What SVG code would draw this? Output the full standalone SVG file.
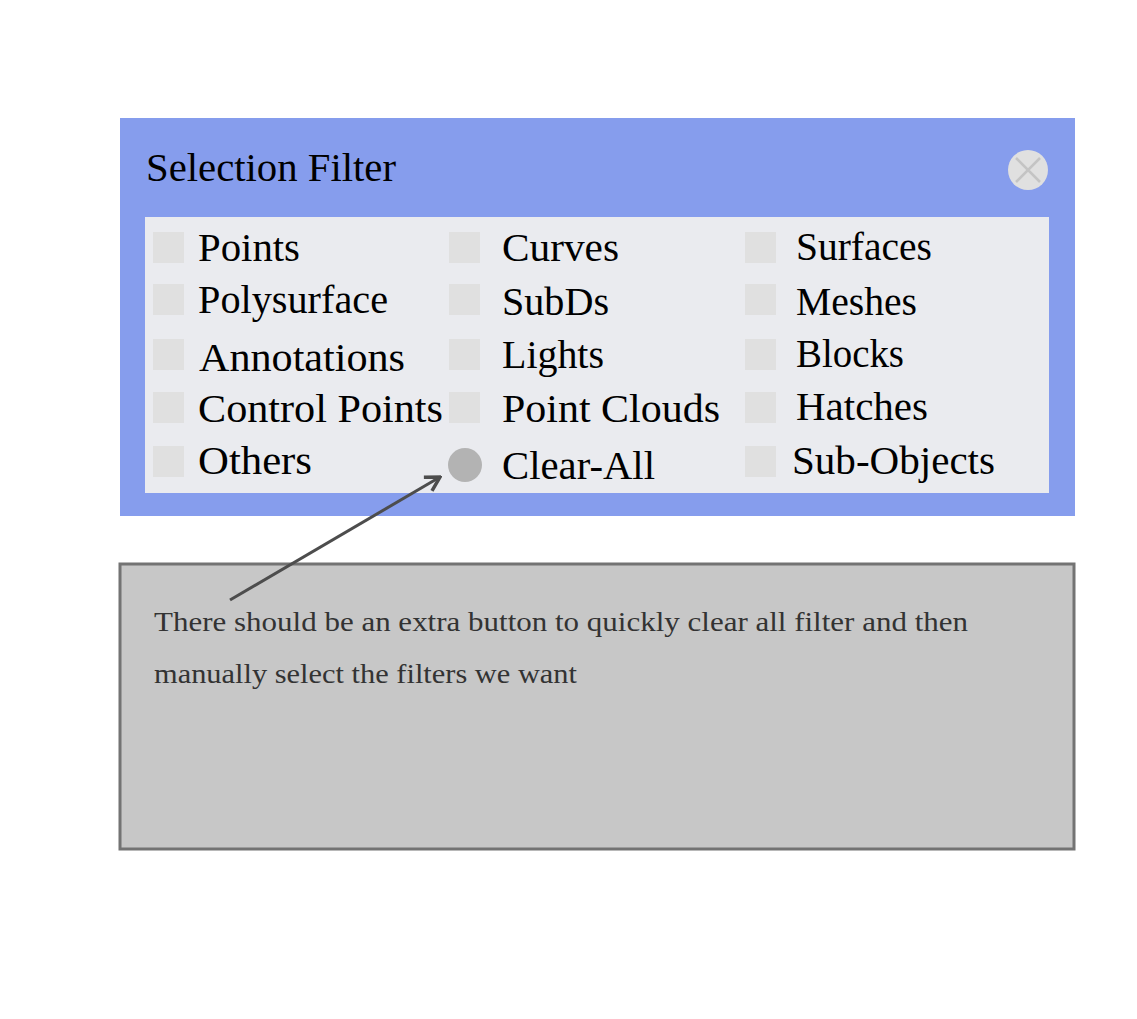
<svg xmlns="http://www.w3.org/2000/svg" width="1137" height="1019" viewBox="0 0 1137 1019">
<style>
.lbl{font-family:"Liberation Serif","Times New Roman",serif;font-size:40px;fill:#000}
.note{font-family:"Liberation Serif","Times New Roman",serif;font-size:28px;fill:#333}
.cb{fill:#e0e0e0}
</style>
<defs>
<marker id="arr" viewBox="0 0 20 20" refX="18" refY="10" markerWidth="20" markerHeight="20" markerUnits="userSpaceOnUse" orient="auto">
<path d="M4,2 L18,10 L4,18" fill="none" stroke="#4d4d4d" stroke-width="3.5" stroke-linejoin="miter"/>
</marker>
</defs>
<rect width="1137" height="1019" fill="#fff"/>
<g id="panel">
<rect x="120" y="118" width="955" height="398" fill="#869ded"/>
<text class="lbl" x="146" y="181" textLength="250" lengthAdjust="spacingAndGlyphs">Selection Filter</text>
<g id="close">
<circle cx="1028" cy="170" r="20" fill="#e0e0e0"/>
<path d="M1016,158 L1040,182 M1040,158 L1016,182" stroke="#c4c4c4" stroke-width="2.5"/>
</g>
<rect x="145" y="217" width="904" height="276" fill="#eaebef"/>
</g>
<g id="opt-points"><rect class="cb" x="153" y="232" width="31" height="31"/><text class="lbl" x="198" y="261" textLength="102" lengthAdjust="spacingAndGlyphs">Points</text></g>
<g id="opt-polysurface"><rect class="cb" x="153" y="284" width="31" height="31"/><text class="lbl" x="198" y="313" textLength="190" lengthAdjust="spacingAndGlyphs">Polysurface</text></g>
<g id="opt-annotations"><rect class="cb" x="153" y="339" width="31" height="31"/><text class="lbl" x="199" y="371" textLength="206" lengthAdjust="spacingAndGlyphs">Annotations</text></g>
<g id="opt-controlpoints"><rect class="cb" x="153" y="392" width="31" height="31"/><text class="lbl" x="198" y="422" textLength="245" lengthAdjust="spacingAndGlyphs">Control Points</text></g>
<g id="opt-others"><rect class="cb" x="153" y="446" width="31" height="31"/><text class="lbl" x="198" y="474" textLength="114" lengthAdjust="spacingAndGlyphs">Others</text></g>
<g id="opt-curves"><rect class="cb" x="449" y="232" width="31" height="31"/><text class="lbl" x="502" y="261" textLength="117" lengthAdjust="spacingAndGlyphs">Curves</text></g>
<g id="opt-subds"><rect class="cb" x="449" y="284" width="31" height="31"/><text class="lbl" x="502" y="315" textLength="107" lengthAdjust="spacingAndGlyphs">SubDs</text></g>
<g id="opt-lights"><rect class="cb" x="449" y="339" width="31" height="31"/><text class="lbl" x="502" y="368" textLength="102" lengthAdjust="spacingAndGlyphs">Lights</text></g>
<g id="opt-pointclouds"><rect class="cb" x="449" y="392" width="31" height="31"/><text class="lbl" x="502" y="422" textLength="218" lengthAdjust="spacingAndGlyphs">Point Clouds</text></g>
<g id="opt-clearall"><circle cx="465" cy="465" r="17" fill="#b3b3b3"/><text class="lbl" x="502" y="479" textLength="153" lengthAdjust="spacingAndGlyphs">Clear-All</text></g>
<g id="opt-surfaces"><rect class="cb" x="745" y="232" width="31" height="31"/><text class="lbl" x="796" y="260" textLength="136" lengthAdjust="spacingAndGlyphs">Surfaces</text></g>
<g id="opt-meshes"><rect class="cb" x="745" y="284" width="31" height="31"/><text class="lbl" x="796" y="315" textLength="121" lengthAdjust="spacingAndGlyphs">Meshes</text></g>
<g id="opt-blocks"><rect class="cb" x="745" y="339" width="31" height="31"/><text class="lbl" x="796" y="367" textLength="108" lengthAdjust="spacingAndGlyphs">Blocks</text></g>
<g id="opt-hatches"><rect class="cb" x="745" y="392" width="31" height="31"/><text class="lbl" x="796" y="420" textLength="132" lengthAdjust="spacingAndGlyphs">Hatches</text></g>
<g id="opt-subobjects"><rect class="cb" x="745" y="446" width="31" height="31"/><text class="lbl" x="792" y="474" textLength="203" lengthAdjust="spacingAndGlyphs">Sub-Objects</text></g>
<g id="note">
<rect x="120" y="564" width="954" height="285" fill="#c7c7c7" stroke="#737373" stroke-width="3"/>
<text class="note" x="154" y="631" textLength="814" lengthAdjust="spacingAndGlyphs">There should be an extra button to quickly clear all filter and then</text>
<text class="note" x="154" y="683" textLength="423" lengthAdjust="spacingAndGlyphs">manually select the filters we want</text>
</g>
<g id="connectors">
<line x1="230" y1="600" x2="440" y2="477" stroke="#4d4d4d" stroke-width="3" marker-end="url(#arr)"/>
</g>
</svg>
